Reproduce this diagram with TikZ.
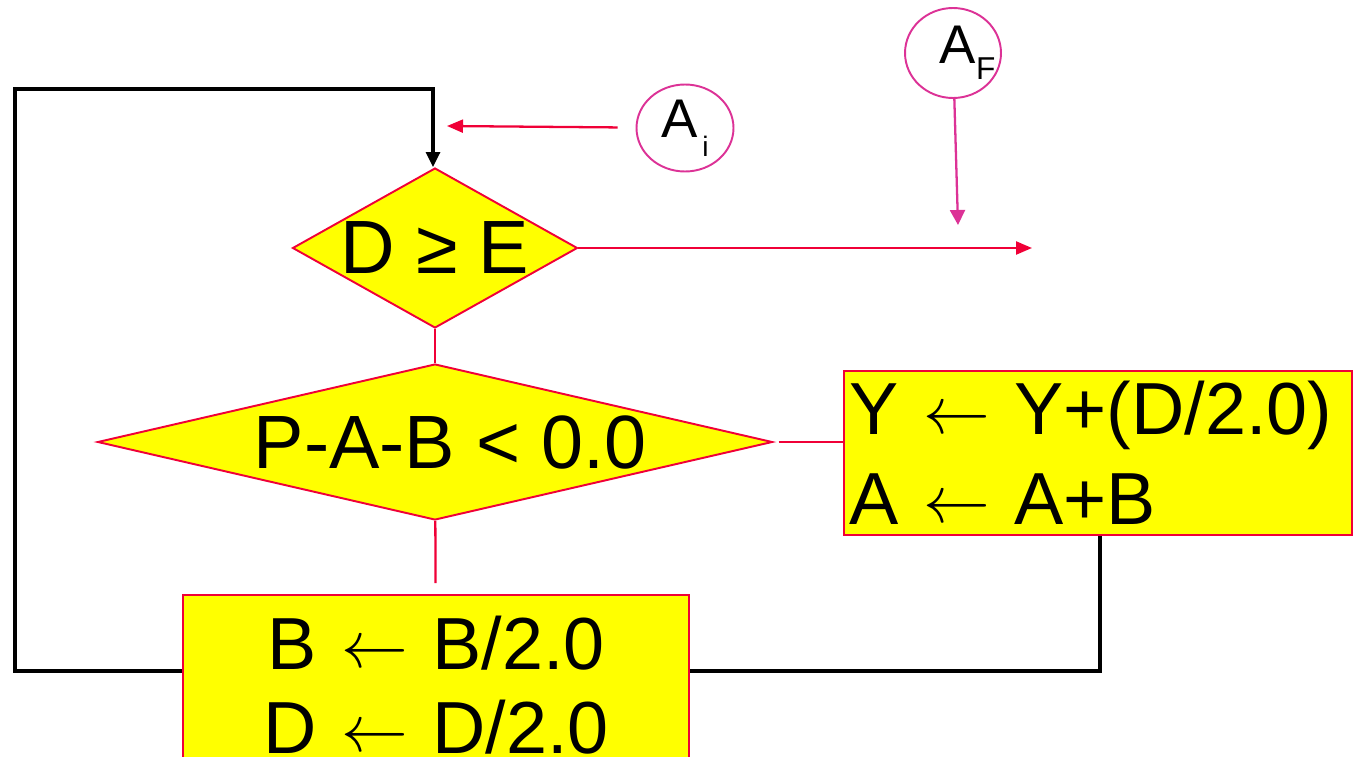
\documentclass[tikz,border=0pt]{standalone}
\usepackage{fontspec}
\setmainfont{Liberation Sans}
\usetikzlibrary{shapes.geometric,arrows.meta}

\definecolor{flowred}{RGB}{240,0,55}
\definecolor{portpink}{RGB}{220,50,150}
\definecolor{flowyellow}{RGB}{255,255,0}
\newcommand{\larrow}{{\fontsize{10}{10}\selectfont\raisebox{0.9pt}{\scalebox{3.8}{$\leftarrow$}}}}

\begin{document}
\begin{tikzpicture}
 [x=0.02cm,y=-0.02cm,
  test node/.style={diamond,draw=flowred,fill=flowyellow,line width=1.1pt,inner sep=0pt,font=\fontsize{43}{51}\selectfont},
  box node/.style={rectangle,draw=flowred,fill=flowyellow,line width=1.1pt,inner xsep=3pt,minimum width=10.12cm},
  port node/.style={ellipse,draw=portpink,line width=1.1pt,inner sep=0pt,font=\fontsize{31}{31}\selectfont},
  red line/.style={draw=flowred,line width=1.3pt},
  loop line/.style={draw=black,line width=1.8pt},
  tip/.style={-{Triangle[length=3mm,width=2.8mm]}}]

 \useasboundingbox (0,0) rectangle (1359,757);
 \clip (0,0) rectangle (1359,757);

 \node[test node,minimum width=5.7cm,minimum height=3.2cm,aspect=1.78] (test) at (435,248) {D ≥ E};
 \node[test node,minimum width=13.5cm,minimum height=3.12cm,aspect=4.33] (check) at (435,442) {\hspace*{0.6cm}P-A-B < 0.0};

 \node[box node,minimum height=3.28cm,text width=9.95cm,align=left,font=\fontsize{42}{51}\selectfont] (add) at (1098,453) {Y \larrow{} Y+(D/2.0)\\A \larrow{} A+B};
 \node[box node,minimum height=3.6cm,text width=9.9cm,align=center,font=\fontsize{42}{48}\selectfont] (halve) at (436,685) {B \larrow{} B/2.0\\D \larrow{} D/2.0};

 \node[port node,minimum width=1.94cm,minimum height=1.74cm] (ai) at (685,128) {A\raisebox{-0.35em}{\fontsize{16}{16}\selectfont\,i}};
 \node[port node,minimum width=1.92cm,minimum height=1.8cm] (af) at (953,53) {\hspace*{0.2cm}A\rlap{\raisebox{-0.3em}{\fontsize{18}{18}\selectfont F}}};

 \coordinate (exit) at (1032,248);
 \coordinate (entry) at (447,126);
 \coordinate (done) at (958,225);
 \coordinate (r) at (1100,671);
 \coordinate (bl) at (15,671);
 \coordinate (tl) at (15,89);
 \coordinate (tr) at (433,89);

 \path
  (test) edge [red line,-{Triangle[length=3.2mm,width=2.6mm]}] (exit)
  (ai) edge [red line,-{Triangle[length=3.2mm,width=2.6mm]},shorten <=0.36cm] (entry)
  (af) edge [draw=portpink,line width=1.3pt,-{Triangle[length=3mm,width=3mm]}] (done)
  (test) edge [red line] (check)
  (check.east) edge [red line,shorten <=3pt] (check.east -| add.west)
  (check) edge [red line,shorten >=0.22cm] (halve);

 \draw[loop line] (add.south -| r) -- (r) -- (r -| halve.east);
 \draw[loop line,tip] (bl -| halve.west) -- (bl) -- (tl) -- (tr) -- (tr |- test.north);

\end{tikzpicture}
\end{document}
